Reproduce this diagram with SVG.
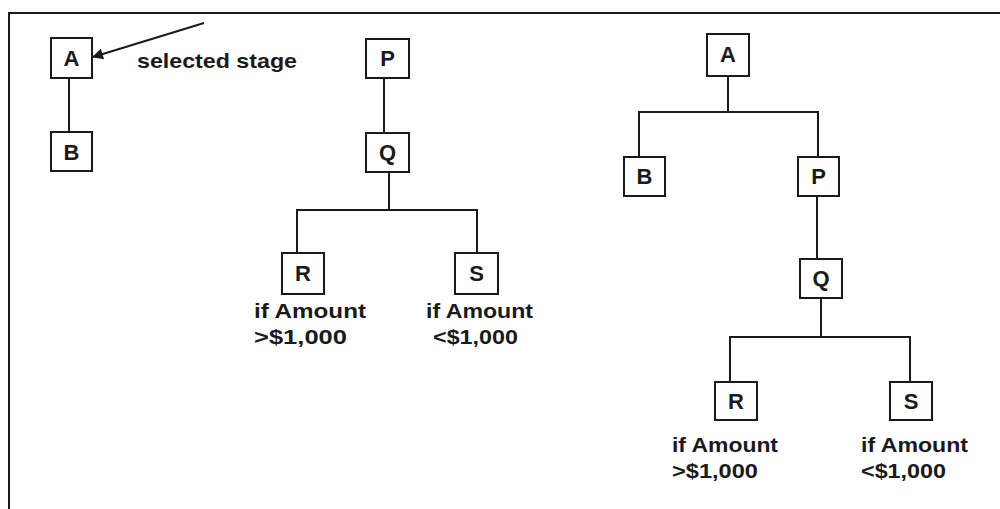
<svg xmlns="http://www.w3.org/2000/svg" width="1000" height="509" viewBox="0 0 1000 509">
<defs>
<style>
.box{fill:#fff;stroke:#1a1a1a;stroke-width:2}
.ln{stroke:#1a1a1a;stroke-width:2;fill:none}
.lt{font-family:"Liberation Sans",Arial,sans-serif;font-weight:bold;font-size:22px;fill:#1a1a1a;text-anchor:middle}
.lb{font-family:"Liberation Sans",Arial,sans-serif;font-weight:bold;font-size:21px;fill:#1a1a1a}
</style>
<marker id="ah" viewBox="0 0 10 10" refX="9" refY="5" markerWidth="16" markerHeight="11" orient="auto" markerUnits="userSpaceOnUse">
<path d="M0,0 L10,5 L0,10 z" fill="#1a1a1a"/>
</marker>
</defs>
<rect width="1000" height="509" fill="#fff"/>
<g id="frame">
<line class="ln" x1="9" y1="509" x2="9" y2="13"/>
<line class="ln" x1="8" y1="13" x2="1000" y2="13"/>
</g>
<g id="connectors">
<line class="ln" x1="69" y1="78" x2="69" y2="132"/>
<line x1="204" y1="23" x2="93" y2="57" stroke="#1a1a1a" stroke-width="2" marker-end="url(#ah)"/>
<line class="ln" x1="384" y1="78" x2="384" y2="133"/>
<line class="ln" x1="389" y1="172" x2="389" y2="210"/>
<polyline class="ln" points="297,253 297,210 477,210 477,253"/>
<line class="ln" x1="728" y1="76" x2="728" y2="112"/>
<polyline class="ln" points="639,157 639,112 818,112 818,157"/>
<line class="ln" x1="817" y1="196" x2="817" y2="259"/>
<line class="ln" x1="821" y1="298" x2="821" y2="337"/>
<polyline class="ln" points="730,382 730,337 910,337 910,382"/>
</g>
<g id="label-selected"><text class="lb" x="137" y="68" textLength="160" lengthAdjust="spacingAndGlyphs">selected stage</text></g>
<g id="n1A"><rect class="box" x="51" y="38" width="41" height="40"/><text class="lt" x="71.5" y="66">A</text></g>
<g id="n1B"><rect class="box" x="51" y="132" width="41" height="39"/><text class="lt" x="71.5" y="160">B</text></g>
<g id="n2P"><rect class="box" x="366" y="39" width="43" height="39"/><text class="lt" x="387.5" y="66">P</text></g>
<g id="n2Q"><rect class="box" x="366" y="133" width="43" height="39"/><text class="lt" x="387.5" y="160">Q</text></g>
<g id="n2R"><rect class="box" x="282" y="253" width="42" height="41"/><text class="lt" x="303" y="281">R</text>
<text class="lb" x="254" y="318" textLength="112" lengthAdjust="spacingAndGlyphs">if Amount</text>
<text class="lb" x="254" y="344" textLength="93" lengthAdjust="spacingAndGlyphs">&gt;$1,000</text></g>
<g id="n2S"><rect class="box" x="455" y="253" width="43" height="41"/><text class="lt" x="476.5" y="281">S</text>
<text class="lb" x="426" y="318" textLength="107" lengthAdjust="spacingAndGlyphs">if Amount</text>
<text class="lb" x="433" y="344" textLength="85" lengthAdjust="spacingAndGlyphs">&lt;$1,000</text></g>
<g id="n3A"><rect class="box" x="707" y="34" width="42" height="42"/><text class="lt" x="728" y="62">A</text></g>
<g id="n3B"><rect class="box" x="624" y="157" width="41" height="39"/><text class="lt" x="644.5" y="184">B</text></g>
<g id="n3P"><rect class="box" x="798" y="157" width="41" height="39"/><text class="lt" x="818.5" y="184">P</text></g>
<g id="n3Q"><rect class="box" x="800" y="259" width="42" height="39"/><text class="lt" x="821" y="286">Q</text></g>
<g id="n3R"><rect class="box" x="715" y="382" width="42" height="38"/><text class="lt" x="736" y="409">R</text>
<text class="lb" x="672" y="452" textLength="106" lengthAdjust="spacingAndGlyphs">if Amount</text>
<text class="lb" x="672" y="478" textLength="86" lengthAdjust="spacingAndGlyphs">&gt;$1,000</text></g>
<g id="n3S"><rect class="box" x="890" y="382" width="42" height="38"/><text class="lt" x="911" y="409">S</text>
<text class="lb" x="861" y="452" textLength="107" lengthAdjust="spacingAndGlyphs">if Amount</text>
<text class="lb" x="861" y="478" textLength="85" lengthAdjust="spacingAndGlyphs">&lt;$1,000</text></g>
</svg>
